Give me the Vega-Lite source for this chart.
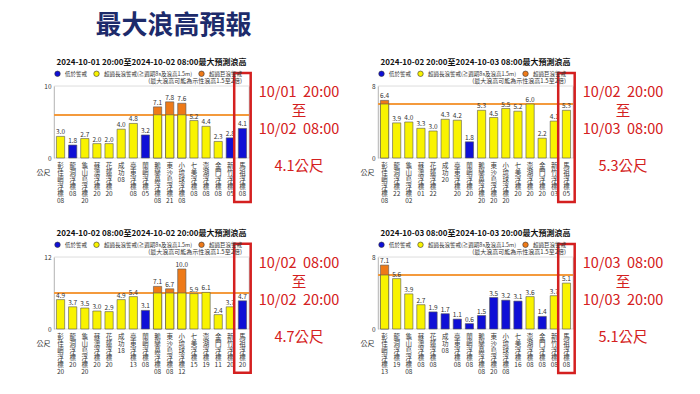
{
"$schema":"https://vega.github.io/schema/vega-lite/v6.json",
"padding":{"left":35,"top":12,"right":0,"bottom":0},
"background":"white",
"title":{"text":"最大浪高預報","fontSize":26,"font":"Noto Sans CJK TC","fontWeight":"bold","color":"#1d2b6b","anchor":"start","dx":60,"offset":20},
"config":{
 "font":"Noto Sans CJK TC",
 "view":{"stroke":"#a0a0a0","strokeWidth":0.8},
 "title":{"fontSize":8,"fontWeight":"bold","color":"#111","offset":3,"font":"Noto Sans CJK TC"},
 "axis":{"labelFontSize":6.5,"labelColor":"#333","gridColor":"#ededed","ticks":false,"domain":false},
 "legend":{"orient":"top","direction":"horizontal","titleOrient":"bottom","titleAnchor":"end","titleFontSize":6,"titleFontWeight":"normal","titleColor":"#333","titlePadding":0,"labelFontSize":5.5,"labelColor":"#333","symbolType":"circle","symbolSize":30,"symbolStrokeColor":"#333","symbolStrokeWidth":0.6,"columnPadding":4,"labelLimit":300,"offset":2,"padding":0}
},
"datasets":{
 "waves":[
  {"p":"p1","label":"彭佳嶼浮標 08","h":3.0,"lv":"超過長浪警戒"},
  {"p":"p1","label":"龍洞浮標 08","h":1.8,"lv":"低於警戒"},
  {"p":"p1","label":"龜山島浮標 20","h":2.7,"lv":"超過長浪警戒"},
  {"p":"p1","label":"蘇澳浮標 20","h":2.0,"lv":"超過長浪警戒"},
  {"p":"p1","label":"花蓮浮標 20","h":2.0,"lv":"超過長浪警戒"},
  {"p":"p1","label":"成功 08","h":4.0,"lv":"超過長浪警戒"},
  {"p":"p1","label":"臺東浮標 08","h":4.8,"lv":"超過長浪警戒"},
  {"p":"p1","label":"蘭嶼浮標 05","h":3.2,"lv":"低於警戒"},
  {"p":"p1","label":"鵝鑾鼻浮標 08","h":7.1,"lv":"超過巨浪警戒"},
  {"p":"p1","label":"東沙島浮標 21","h":7.8,"lv":"超過巨浪警戒"},
  {"p":"p1","label":"小琉球浮標 08","h":7.6,"lv":"超過巨浪警戒"},
  {"p":"p1","label":"七美浮標 08","h":5.2,"lv":"超過長浪警戒"},
  {"p":"p1","label":"澎湖浮標 08","h":4.4,"lv":"超過長浪警戒"},
  {"p":"p1","label":"金門浮標 08","h":2.3,"lv":"超過長浪警戒"},
  {"p":"p1","label":"新竹浮標 05","h":2.8,"lv":"低於警戒"},
  {"p":"p1","label":"馬祖浮標 08","h":4.1,"lv":"低於警戒"},
  {"p":"p2","label":"彭佳嶼浮標 08","h":6.4,"lv":"超過巨浪警戒"},
  {"p":"p2","label":"龍洞浮標 22","h":3.9,"lv":"超過長浪警戒"},
  {"p":"p2","label":"龜山島浮標 02","h":4.0,"lv":"超過長浪警戒"},
  {"p":"p2","label":"蘇澳浮標 01","h":3.3,"lv":"超過長浪警戒"},
  {"p":"p2","label":"花蓮浮標 22","h":3.0,"lv":"超過長浪警戒"},
  {"p":"p2","label":"成功 20","h":4.3,"lv":"超過長浪警戒"},
  {"p":"p2","label":"臺東浮標 20","h":4.2,"lv":"超過長浪警戒"},
  {"p":"p2","label":"蘭嶼浮標 20","h":1.8,"lv":"低於警戒"},
  {"p":"p2","label":"鵝鑾鼻浮標 20","h":5.3,"lv":"超過長浪警戒"},
  {"p":"p2","label":"東沙島浮標 20","h":4.5,"lv":"超過長浪警戒"},
  {"p":"p2","label":"小琉球浮標 20","h":5.5,"lv":"超過長浪警戒"},
  {"p":"p2","label":"七美浮標 20","h":5.2,"lv":"超過長浪警戒"},
  {"p":"p2","label":"澎湖浮標 20","h":6.0,"lv":"超過長浪警戒"},
  {"p":"p2","label":"金門浮標 20","h":2.2,"lv":"超過長浪警戒"},
  {"p":"p2","label":"新竹浮標 03","h":4.1,"lv":"超過長浪警戒"},
  {"p":"p2","label":"馬祖浮標 05","h":5.3,"lv":"超過長浪警戒"},
  {"p":"p3","label":"彭佳嶼浮標 20","h":4.9,"lv":"超過長浪警戒"},
  {"p":"p3","label":"龍洞浮標 20","h":3.7,"lv":"超過長浪警戒"},
  {"p":"p3","label":"龜山島浮標 20","h":3.5,"lv":"超過長浪警戒"},
  {"p":"p3","label":"蘇澳浮標 20","h":3.0,"lv":"超過長浪警戒"},
  {"p":"p3","label":"花蓮浮標 20","h":2.9,"lv":"超過長浪警戒"},
  {"p":"p3","label":"成功 18","h":4.9,"lv":"超過長浪警戒"},
  {"p":"p3","label":"臺東浮標 13","h":5.4,"lv":"超過長浪警戒"},
  {"p":"p3","label":"蘭嶼浮標 08","h":3.1,"lv":"低於警戒"},
  {"p":"p3","label":"鵝鑾鼻浮標 08","h":7.1,"lv":"超過巨浪警戒"},
  {"p":"p3","label":"東沙島浮標 08","h":6.7,"lv":"超過巨浪警戒"},
  {"p":"p3","label":"小琉球浮標 12","h":10.0,"lv":"超過巨浪警戒"},
  {"p":"p3","label":"七美浮標 15","h":5.9,"lv":"超過長浪警戒"},
  {"p":"p3","label":"澎湖浮標 19","h":6.1,"lv":"超過長浪警戒"},
  {"p":"p3","label":"金門浮標 11","h":2.4,"lv":"超過長浪警戒"},
  {"p":"p3","label":"新竹浮標 20","h":3.7,"lv":"超過長浪警戒"},
  {"p":"p3","label":"馬祖浮標 20","h":4.7,"lv":"低於警戒"},
  {"p":"p4","label":"彭佳嶼浮標 13","h":7.1,"lv":"超過巨浪警戒"},
  {"p":"p4","label":"龍洞浮標 19","h":5.6,"lv":"超過長浪警戒"},
  {"p":"p4","label":"龜山島浮標 08","h":3.9,"lv":"超過長浪警戒"},
  {"p":"p4","label":"蘇澳浮標 08","h":2.7,"lv":"超過長浪警戒"},
  {"p":"p4","label":"花蓮浮標 08","h":1.9,"lv":"低於警戒"},
  {"p":"p4","label":"成功 08","h":1.7,"lv":"低於警戒"},
  {"p":"p4","label":"臺東浮標 08","h":1.1,"lv":"低於警戒"},
  {"p":"p4","label":"蘭嶼浮標 08","h":0.6,"lv":"低於警戒"},
  {"p":"p4","label":"鵝鑾鼻浮標 08","h":1.5,"lv":"低於警戒"},
  {"p":"p4","label":"東沙島浮標 20","h":3.5,"lv":"低於警戒"},
  {"p":"p4","label":"小琉球浮標 08","h":3.2,"lv":"低於警戒"},
  {"p":"p4","label":"七美浮標 16","h":3.1,"lv":"低於警戒"},
  {"p":"p4","label":"澎湖浮標 08","h":3.6,"lv":"超過長浪警戒"},
  {"p":"p4","label":"金門浮標 08","h":1.4,"lv":"低於警戒"},
  {"p":"p4","label":"新竹浮標 08","h":3.7,"lv":"超過長浪警戒"},
  {"p":"p4","label":"馬祖浮標 08","h":5.1,"lv":"超過長浪警戒"}
 ],
 "notes":[
  {"a":"a1","lines":["10/01\u00a0\u00a020:00","至","10/02\u00a0\u00a008:00"],"hgt":"4.1公尺"},
  {"a":"a2","lines":["10/02\u00a0\u00a020:00","至","10/03\u00a0\u00a008:00"],"hgt":"5.3公尺"},
  {"a":"a3","lines":["10/02\u00a0\u00a008:00","至","10/02\u00a0\u00a020:00"],"hgt":"4.7公尺"},
  {"a":"a4","lines":["10/03\u00a0\u00a008:00","至","10/03\u00a0\u00a020:00"],"hgt":"5.1公尺"}
 ]
},
"resolve":{"scale":{"color":"independent"}},
"spacing":25,
"vconcat":[
 {"spacing":3,"resolve":{"scale":{"color":"independent"}},"hconcat":[
  {"width":195,"height":72,"data":{"name":"waves"},"transform":[{"filter":"datum.p=='p1'"}],
   "title":{"text":"2024-10-01 20:00至2024-10-02 08:00最大預測浪高"},
   "layer":[
    {"mark":{"type":"rule","color":"#f39a3c","strokeWidth":1.2},"encoding":{"y":{"datum":6,"type":"quantitative","scale":{"domain":[0,10]},"axis":{"values":[0,2,4,6,8,10],"title":"公尺","titleAngle":0,"titleAlign":"right","titleBaseline":"middle","titleX":-4,"titleY":86,"titleFontSize":7,"titleFontWeight":"normal","titleColor":"#333","grid":true,"labelPadding":3}}}},
    {"mark":{"type":"bar","stroke":"#555","strokeWidth":0.6},"encoding":{
      "x":{"field":"label","type":"nominal","sort":null,"scale":{"paddingInner":0.32,"paddingOuter":0.2},"axis":{"title":null,"labelAngle":0,"labelAlign":"center","labelBaseline":"top","labelFontSize":6.5,"labelLineHeight":7,"labelPadding":4,"labelOverlap":false,"labelLimit":0,"labelExpr":"split(join(split(split(datum.value,' ')[0],''),' ') + ' ' + split(datum.value,' ')[1], ' ')"}},
      "y":{"field":"h","type":"quantitative"},
      "color":{"field":"lv","type":"nominal","scale":{"domain":["低於警戒","超過長浪警戒","超過巨浪警戒"],"range":["#0f0fd6","#f9f300","#ee7a18"]},"legend":{"title":"(最大浪高可能為示性浪高1.5至2倍)","labelExpr":"datum.label=='超過長浪警戒' ? '超過長浪警戒(≧週期8s及浪高1.5m)' : datum.label"}}}},
    {"transform":[{"filter":"datum.lv=='超過巨浪警戒'"}],"mark":{"type":"bar","color":"#f9f300","stroke":"#555","strokeWidth":0.6},"encoding":{"x":{"field":"label","type":"nominal","sort":null},"y":{"datum":6,"type":"quantitative"}}},
    {"mark":{"type":"text","fontSize":6.5,"color":"#333","baseline":"bottom","dy":-1},"encoding":{"x":{"field":"label","type":"nominal","sort":null},"y":{"field":"h","type":"quantitative"},"text":{"field":"h","type":"quantitative","format":".1f"}}},
    {"transform":[{"filter":"indexof(datum.label,'馬祖')==0"}],"mark":{"type":"rect","fill":"transparent","stroke":"#d42020","strokeWidth":2.5,"width":{"band":2.0}},"encoding":{"x":{"field":"label","type":"nominal","sort":null},"y":{"datum":11.8,"type":"quantitative"},"y2":{"datum":-6.1}}}
   ]},
  {"width":100,"height":14,"view":{"stroke":null},"data":{"name":"notes"},"transform":[{"filter":"datum.a=='a1'"}],
   "layer":[
    {"mark":{"type":"text","fontSize":14.5,"color":"#d42020","lineHeight":18.5,"align":"center","baseline":"middle","dx":-7},"encoding":{"text":{"field":"lines","type":"nominal"}}},
    {"mark":{"type":"text","fontSize":14.5,"color":"#d42020","align":"center","baseline":"middle","dx":-7,"dy":74},"encoding":{"text":{"field":"hgt","type":"nominal"}}}
   ]},
  {"width":195,"height":72,"data":{"name":"waves"},"transform":[{"filter":"datum.p=='p2'"}],
   "title":{"text":"2024-10-02 20:00至2024-10-03 08:00最大預測浪高"},
   "layer":[
    {"mark":{"type":"rule","color":"#f39a3c","strokeWidth":1.2},"encoding":{"y":{"datum":6,"type":"quantitative","scale":{"domain":[0,8]},"axis":{"values":[0,2,4,6,8],"title":"公尺","titleAngle":0,"titleAlign":"right","titleBaseline":"middle","titleX":-4,"titleY":86,"titleFontSize":7,"titleFontWeight":"normal","titleColor":"#333","grid":true,"labelPadding":3}}}},
    {"mark":{"type":"bar","stroke":"#555","strokeWidth":0.6},"encoding":{
      "x":{"field":"label","type":"nominal","sort":null,"scale":{"paddingInner":0.32,"paddingOuter":0.2},"axis":{"title":null,"labelAngle":0,"labelAlign":"center","labelBaseline":"top","labelFontSize":6.5,"labelLineHeight":7,"labelPadding":4,"labelOverlap":false,"labelLimit":0,"labelExpr":"split(join(split(split(datum.value,' ')[0],''),' ') + ' ' + split(datum.value,' ')[1], ' ')"}},
      "y":{"field":"h","type":"quantitative"},
      "color":{"field":"lv","type":"nominal","scale":{"domain":["低於警戒","超過長浪警戒","超過巨浪警戒"],"range":["#0f0fd6","#f9f300","#ee7a18"]},"legend":{"title":"(最大浪高可能為示性浪高1.5至2倍)","labelExpr":"datum.label=='超過長浪警戒' ? '超過長浪警戒(≧週期8s及浪高1.5m)' : datum.label"}}}},
    {"transform":[{"filter":"datum.lv=='超過巨浪警戒'"}],"mark":{"type":"bar","color":"#f9f300","stroke":"#555","strokeWidth":0.6},"encoding":{"x":{"field":"label","type":"nominal","sort":null},"y":{"datum":6,"type":"quantitative"}}},
    {"mark":{"type":"text","fontSize":6.5,"color":"#333","baseline":"bottom","dy":-1},"encoding":{"x":{"field":"label","type":"nominal","sort":null},"y":{"field":"h","type":"quantitative"},"text":{"field":"h","type":"quantitative","format":".1f"}}},
    {"transform":[{"filter":"indexof(datum.label,'馬祖')==0"}],"mark":{"type":"rect","fill":"transparent","stroke":"#d42020","strokeWidth":2.5,"width":{"band":2.0}},"encoding":{"x":{"field":"label","type":"nominal","sort":null},"y":{"datum":9.45,"type":"quantitative"},"y2":{"datum":-4.9}}}
   ]},
  {"width":100,"height":14,"view":{"stroke":null},"data":{"name":"notes"},"transform":[{"filter":"datum.a=='a2'"}],
   "layer":[
    {"mark":{"type":"text","fontSize":14.5,"color":"#d42020","lineHeight":18.5,"align":"center","baseline":"middle","dx":-7},"encoding":{"text":{"field":"lines","type":"nominal"}}},
    {"mark":{"type":"text","fontSize":14.5,"color":"#d42020","align":"center","baseline":"middle","dx":-7,"dy":74},"encoding":{"text":{"field":"hgt","type":"nominal"}}}
   ]}
 ]},
 {"spacing":3,"resolve":{"scale":{"color":"independent"}},"hconcat":[
  {"width":195,"height":72,"data":{"name":"waves"},"transform":[{"filter":"datum.p=='p3'"}],
   "title":{"text":"2024-10-02 08:00至2024-10-02 20:00最大預測浪高"},
   "layer":[
    {"mark":{"type":"rule","color":"#f39a3c","strokeWidth":1.2},"encoding":{"y":{"datum":6,"type":"quantitative","scale":{"domain":[0,12]},"axis":{"values":[0,2,4,6,8,10,12],"title":"公尺","titleAngle":0,"titleAlign":"right","titleBaseline":"middle","titleX":-4,"titleY":86,"titleFontSize":7,"titleFontWeight":"normal","titleColor":"#333","grid":true,"labelPadding":3}}}},
    {"mark":{"type":"bar","stroke":"#555","strokeWidth":0.6},"encoding":{
      "x":{"field":"label","type":"nominal","sort":null,"scale":{"paddingInner":0.32,"paddingOuter":0.2},"axis":{"title":null,"labelAngle":0,"labelAlign":"center","labelBaseline":"top","labelFontSize":6.5,"labelLineHeight":7,"labelPadding":4,"labelOverlap":false,"labelLimit":0,"labelExpr":"split(join(split(split(datum.value,' ')[0],''),' ') + ' ' + split(datum.value,' ')[1], ' ')"}},
      "y":{"field":"h","type":"quantitative"},
      "color":{"field":"lv","type":"nominal","scale":{"domain":["低於警戒","超過長浪警戒","超過巨浪警戒"],"range":["#0f0fd6","#f9f300","#ee7a18"]},"legend":{"title":"(最大浪高可能為示性浪高1.5至2倍)","labelExpr":"datum.label=='超過長浪警戒' ? '超過長浪警戒(≧週期8s及浪高1.5m)' : datum.label"}}}},
    {"transform":[{"filter":"datum.lv=='超過巨浪警戒'"}],"mark":{"type":"bar","color":"#f9f300","stroke":"#555","strokeWidth":0.6},"encoding":{"x":{"field":"label","type":"nominal","sort":null},"y":{"datum":6,"type":"quantitative"}}},
    {"mark":{"type":"text","fontSize":6.5,"color":"#333","baseline":"bottom","dy":-1},"encoding":{"x":{"field":"label","type":"nominal","sort":null},"y":{"field":"h","type":"quantitative"},"text":{"field":"h","type":"quantitative","format":".1f"}}},
    {"transform":[{"filter":"indexof(datum.label,'馬祖')==0"}],"mark":{"type":"rect","fill":"transparent","stroke":"#d42020","strokeWidth":2.5,"width":{"band":2.0}},"encoding":{"x":{"field":"label","type":"nominal","sort":null},"y":{"datum":14.2,"type":"quantitative"},"y2":{"datum":-7.3}}}
   ]},
  {"width":100,"height":14,"view":{"stroke":null},"data":{"name":"notes"},"transform":[{"filter":"datum.a=='a3'"}],
   "layer":[
    {"mark":{"type":"text","fontSize":14.5,"color":"#d42020","lineHeight":18.5,"align":"center","baseline":"middle","dx":-7},"encoding":{"text":{"field":"lines","type":"nominal"}}},
    {"mark":{"type":"text","fontSize":14.5,"color":"#d42020","align":"center","baseline":"middle","dx":-7,"dy":74},"encoding":{"text":{"field":"hgt","type":"nominal"}}}
   ]},
  {"width":195,"height":72,"data":{"name":"waves"},"transform":[{"filter":"datum.p=='p4'"}],
   "title":{"text":"2024-10-03 08:00至2024-10-03 20:00最大預測浪高"},
   "layer":[
    {"mark":{"type":"rule","color":"#f39a3c","strokeWidth":1.2},"encoding":{"y":{"datum":6,"type":"quantitative","scale":{"domain":[0,8]},"axis":{"values":[0,2,4,6,8],"title":"公尺","titleAngle":0,"titleAlign":"right","titleBaseline":"middle","titleX":-4,"titleY":86,"titleFontSize":7,"titleFontWeight":"normal","titleColor":"#333","grid":true,"labelPadding":3}}}},
    {"mark":{"type":"bar","stroke":"#555","strokeWidth":0.6},"encoding":{
      "x":{"field":"label","type":"nominal","sort":null,"scale":{"paddingInner":0.32,"paddingOuter":0.2},"axis":{"title":null,"labelAngle":0,"labelAlign":"center","labelBaseline":"top","labelFontSize":6.5,"labelLineHeight":7,"labelPadding":4,"labelOverlap":false,"labelLimit":0,"labelExpr":"split(join(split(split(datum.value,' ')[0],''),' ') + ' ' + split(datum.value,' ')[1], ' ')"}},
      "y":{"field":"h","type":"quantitative"},
      "color":{"field":"lv","type":"nominal","scale":{"domain":["低於警戒","超過長浪警戒","超過巨浪警戒"],"range":["#0f0fd6","#f9f300","#ee7a18"]},"legend":{"title":"(最大浪高可能為示性浪高1.5至2倍)","labelExpr":"datum.label=='超過長浪警戒' ? '超過長浪警戒(≧週期8s及浪高1.5m)' : datum.label"}}}},
    {"transform":[{"filter":"datum.lv=='超過巨浪警戒'"}],"mark":{"type":"bar","color":"#f9f300","stroke":"#555","strokeWidth":0.6},"encoding":{"x":{"field":"label","type":"nominal","sort":null},"y":{"datum":6,"type":"quantitative"}}},
    {"mark":{"type":"text","fontSize":6.5,"color":"#333","baseline":"bottom","dy":-1},"encoding":{"x":{"field":"label","type":"nominal","sort":null},"y":{"field":"h","type":"quantitative"},"text":{"field":"h","type":"quantitative","format":".1f"}}},
    {"transform":[{"filter":"indexof(datum.label,'馬祖')==0"}],"mark":{"type":"rect","fill":"transparent","stroke":"#d42020","strokeWidth":2.5,"width":{"band":2.0}},"encoding":{"x":{"field":"label","type":"nominal","sort":null},"y":{"datum":9.45,"type":"quantitative"},"y2":{"datum":-4.9}}}
   ]},
  {"width":100,"height":14,"view":{"stroke":null},"data":{"name":"notes"},"transform":[{"filter":"datum.a=='a4'"}],
   "layer":[
    {"mark":{"type":"text","fontSize":14.5,"color":"#d42020","lineHeight":18.5,"align":"center","baseline":"middle","dx":-7},"encoding":{"text":{"field":"lines","type":"nominal"}}},
    {"mark":{"type":"text","fontSize":14.5,"color":"#d42020","align":"center","baseline":"middle","dx":-7,"dy":74},"encoding":{"text":{"field":"hgt","type":"nominal"}}}
   ]}
 ]}
]
}
